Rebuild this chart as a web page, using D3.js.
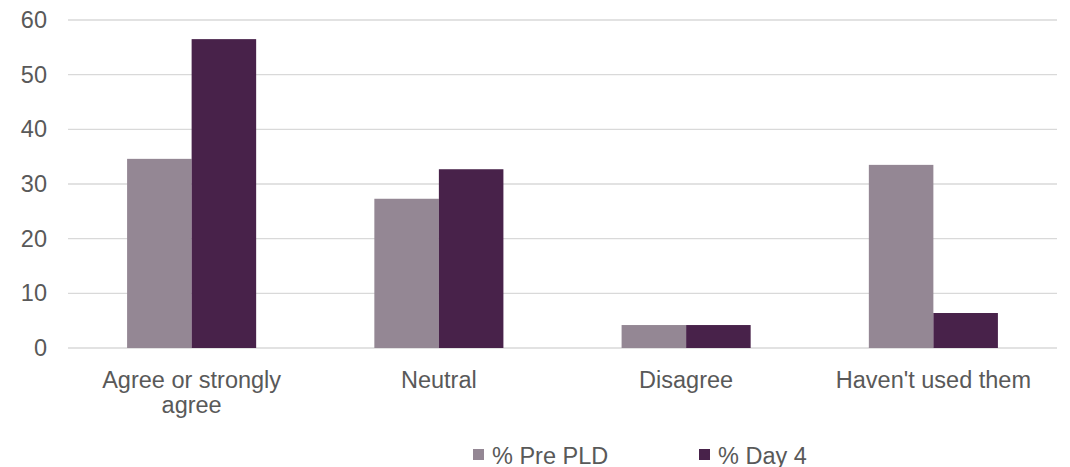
<!DOCTYPE html>
<html>
<head>
<meta charset="utf-8">
<script src="https://cdn.jsdelivr.net/npm/d3@7"></script>
<style>
  html, body { margin: 0; padding: 0; background: #fff; }
  svg { display: block; }
  text { font-family: "Liberation Sans", Arial, sans-serif; fill: #595959; }
</style>
</head>
<body>
<svg id="chart" width="1070" height="467"></svg>
<script>
const categories = [["Agree or strongly", "agree"], ["Neutral"], ["Disagree"], ["Haven't used them"]];
const seriesNames = ["% Pre PLD", "% Day 4"];
const prePLD = [34.6, 27.3, 4.2, 33.5];
const day4 = [56.5, 32.7, 4.2, 6.4];
const yTicks = [0, 10, 20, 30, 40, 50, 60];
const colors = ["#948794", "#48224a"];

const svg = d3.select("#chart");
const plotLeft = 68, plotRight = 1057, plotTop = 20, plotBottom = 348;

const keys = categories.map((c, i) => i);
const x0 = d3.scaleBand().domain(keys).range([plotLeft, plotRight]).paddingInner(0.478).paddingOuter(0.239);
const x1 = d3.scaleBand().domain([0, 1]).range([0, x0.bandwidth()]);
const y = d3.scaleLinear().domain([0, 60]).range([plotBottom, plotTop]);

// gridlines
svg.append("g").selectAll("line").data(yTicks).join("line")
  .attr("x1", plotLeft).attr("x2", plotRight)
  .attr("y1", d => y(d)).attr("y2", d => y(d))
  .attr("stroke", "#d9d9d9").attr("stroke-width", 1.3);

// y labels
svg.append("g").selectAll("text").data(yTicks).join("text")
  .attr("x", 47).attr("y", d => y(d) + 8)
  .attr("text-anchor", "end").attr("font-size", 23.5)
  .text(d => d);

const series = [prePLD, day4];
series.forEach((vals, s) => {
  svg.append("g").selectAll("rect").data(vals).join("rect")
    .attr("x", (d, i) => x0(i) + x1(s))
    .attr("width", x1.bandwidth())
    .attr("y", d => y(d))
    .attr("height", d => y(0) - y(d))
    .attr("fill", colors[s]);
});

// x labels
const xl = svg.append("g").selectAll("text").data(categories).join("text")
  .attr("text-anchor", "middle").attr("font-size", 23.5)
  .attr("x", (d, i) => x0(i) + x0.bandwidth() / 2)
  .attr("y", 388);
xl.each(function(lines, i) {
  const t = d3.select(this);
  lines.forEach((ln, j) => {
    t.append("tspan").attr("x", x0(i) + x0.bandwidth() / 2).attr("dy", j === 0 ? 0 : 24.5).text(ln);
  });
});

// legend
const legendX = [473, 699];
seriesNames.forEach((name, s) => {
  svg.append("rect").attr("x", legendX[s]).attr("y", 449).attr("width", 11).attr("height", 11).attr("fill", colors[s]);
  svg.append("text").attr("x", legendX[s] + 19).attr("y", 464).attr("font-size", 23.5).text(name);
});
</script>
</body>
</html>
